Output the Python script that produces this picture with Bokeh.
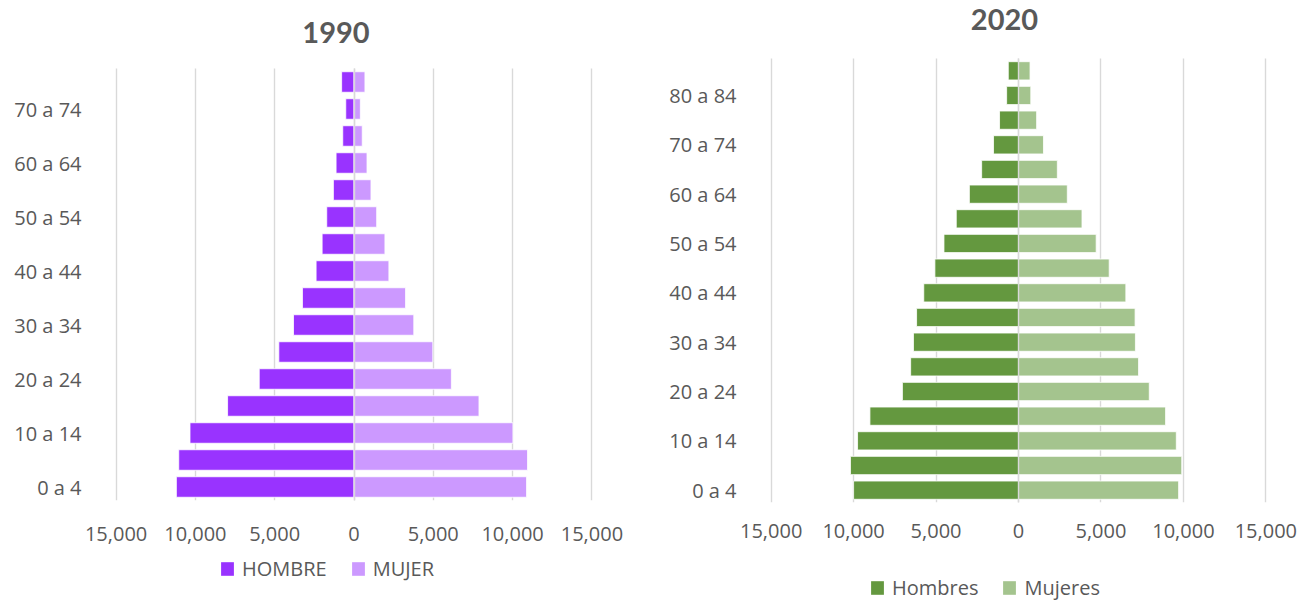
from bokeh.plotting import figure
from bokeh.models import ColumnDataSource, FixedTicker, Legend, LegendItem, Label, Grid
from bokeh.layouts import row, column
from bokeh.embed import file_html
from bokeh.resources import INLINE

# ---------------- data ----------------
ages_1990 = ["0 a 4", "5 a 9", "10 a 14", "15 a 19", "20 a 24", "25 a 29", "30 a 34",
             "35 a 39", "40 a 44", "45 a 49", "50 a 54", "55 a 59", "60 a 64", "65 a 69",
             "70 a 74", "75 y más"]
hombre_1990 = [11200, 11050, 10340, 7970, 5975, 4740, 3815, 3250, 2390, 2010, 1720, 1300,
               1130, 710, 520, 780]
mujer_1990 = [10880, 10940, 10020, 7880, 6140, 4970, 3770, 3250, 2200, 1950, 1430, 1070,
              820, 520, 400, 690]

ages_2020 = ["0 a 4", "5 a 9", "10 a 14", "15 a 19", "20 a 24", "25 a 29", "30 a 34",
             "35 a 39", "40 a 44", "45 a 49", "50 a 54", "55 a 59", "60 a 64", "65 a 69",
             "70 a 74", "75 a 79", "80 a 84", "85 y más"]
hombres_2020 = [10000, 10190, 9760, 9010, 7040, 6540, 6370, 6180, 5745, 5070, 4520, 3775,
                2980, 2235, 1515, 1150, 720, 620]
mujeres_2020 = [9710, 9900, 9570, 8920, 7930, 7280, 7090, 7070, 6510, 5500, 4710, 3850,
                2960, 2355, 1515, 1100, 745, 700]

x_ticks = [-15000, -10000, -5000, 0, 5000, 10000, 15000]

TEXT = "#595959"
GRID = "#D9D9D9"
FONT = "Open Sans"
XMAX = 15100  # tiny pad so the outer gridlines are not clipped


def make_source(male, female):
    n = len(male)
    return ColumnDataSource(dict(
        y=list(range(n)),
        male_left=[-v for v in male],
        female=list(female),
        zero=[0] * n,
    ))


def pyramid(title, ages, src, male_color, female_color,
            width, height, mb_left, mb_right, mb_bottom, pitch, bar_h,
            title_dx, title_base, x_standoff):
    n = len(ages)
    frame_h = height - mb_bottom          # frame spans from the top of the canvas
    frame_w = width - mb_left - mb_right
    y_end = -0.5 + frame_h / pitch
    p = figure(width=width, height=height, output_backend="svg", toolbar_location=None,
               x_range=(-XMAX, XMAX), y_range=(-0.5, y_end),
               min_border_left=mb_left, min_border_right=mb_right,
               min_border_top=0, min_border_bottom=mb_bottom)
    p.outline_line_color = None
    p.background_fill_color = "white"
    p.border_fill_color = "white"

    p.hbar(y="y", left="male_left", right="zero", height=bar_h, source=src,
           fill_color=male_color, line_color="white", line_width=0.8)
    p.hbar(y="y", left="zero", right="female", height=bar_h, source=src,
           fill_color=female_color, line_color="white", line_width=0.8)

    # x axis
    xa = p.xaxis[0]
    xa.ticker = FixedTicker(ticks=x_ticks)
    xa.major_label_overrides = {t: f"{abs(t):,}" for t in x_ticks}
    xa.axis_line_color = None
    xa.major_tick_line_color = None
    xa.minor_tick_line_color = None
    xa.major_tick_out = 0
    xa.major_tick_in = 0
    xa.major_label_standoff = x_standoff
    xa.major_label_text_font = FONT
    xa.major_label_text_font_size = "20px"
    xa.major_label_text_color = TEXT

    # y axis (every other age group labelled)
    ya = p.yaxis[0]
    yt = list(range(0, n, 2))
    ya.ticker = FixedTicker(ticks=yt)
    ya.major_label_overrides = {i: ages[i] for i in yt}
    ya.axis_line_color = None
    ya.major_tick_line_color = None
    ya.minor_tick_line_color = None
    ya.major_tick_out = 0
    ya.major_tick_in = 0
    ya.major_label_standoff = 33
    ya.major_label_text_font = FONT
    ya.major_label_text_font_size = "20px"
    ya.major_label_text_color = TEXT

    p.xgrid.grid_line_color = GRID
    p.xgrid.grid_line_width = 1.4
    p.xgrid.cross_bounds = (-0.5, n - 0.5)
    p.ygrid.grid_line_color = None

    # vertical axis line at 0, drawn over the bars
    p.add_layout(Grid(dimension=0, ticker=FixedTicker(ticks=[0]), cross_bounds=(-0.5, n - 0.5),
                      grid_line_color=GRID, grid_line_width=1.4, level="overlay"))

    # title (inside the frame, above the bars)
    px_per_x = frame_w / (2 * XMAX)
    p.add_layout(Label(x=title_dx / px_per_x, y=-0.5 + (frame_h - title_base) / pitch,
                       text=title, text_align="center", text_baseline="alphabetic",
                       text_font="Lato", text_font_style="bold", text_font_size="29px",
                       text_color=TEXT))
    return p


def legend_strip(src, male_name, female_name, male_color, female_color, width, height, loc):
    # legend-only strip; its bars use the same source but lie outside its ranges
    q = figure(width=width, height=height, output_backend="svg", toolbar_location=None,
               x_axis_type=None, y_axis_type=None, x_range=(1, 2), y_range=(100, 101),
               min_border_left=0, min_border_right=0, min_border_top=0, min_border_bottom=0)
    q.outline_line_color = None
    q.xgrid.grid_line_color = None
    q.ygrid.grid_line_color = None
    rm = q.hbar(y="y", left="male_left", right="zero", height=0.5, source=src,
                fill_color=male_color, line_color=None)
    rf = q.hbar(y="y", left="zero", right="female", height=0.5, source=src,
                fill_color=female_color, line_color=None)
    legend = Legend(items=[LegendItem(label=male_name, renderers=[rm]),
                           LegendItem(label=female_name, renderers=[rf])],
                    orientation="horizontal", location=loc,
                    padding=0, margin=0, spacing=23, label_standoff=7,
                    glyph_width=16, glyph_height=17, label_height=20,
                    border_line_color=None, background_fill_alpha=0,
                    label_text_font=FONT, label_text_font_size="20px",
                    label_text_color=TEXT)
    q.add_layout(legend)
    return q


s1 = make_source(hombre_1990, mujer_1990)
s2 = make_source(hombres_2020, mujeres_2020)

p1 = pyramid("1990", ages_1990, s1, "#9933FF", "#CC99FF",
             width=650, height=555, mb_left=114, mb_right=57, mb_bottom=55, pitch=27.0,
             bar_h=0.76, title_dx=-18, title_base=32, x_standoff=26)
l1 = legend_strip(s1, "HOMBRE", "MUJER", "#9933FF", "#CC99FF", width=650, height=46,
                  loc=(105, 19))

p2 = pyramid("2020", ages_2020, s2, "#64983F", "#A4C48E",
             width=659, height=555, mb_left=119, mb_right=42, mb_bottom=53, pitch=24.667,
             bar_h=0.74, title_dx=-14, title_base=19, x_standoff=21)
l2 = legend_strip(s2, "Hombres", "Mujeres", "#64983F", "#A4C48E", width=659, height=46,
                  loc=(100, 0))

layout = row(column(p1, l1), column(p2, l2))
open("out.html", "w").write(file_html(layout, INLINE))
